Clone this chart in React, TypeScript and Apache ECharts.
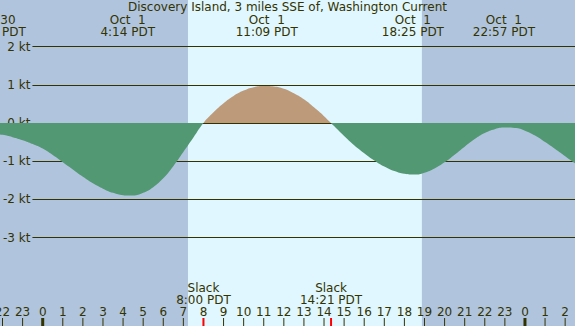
import React, { useEffect, useRef } from "react";
import * as echarts from "echarts";

const TITLE = "Discovery Island, 3 miles SSE of, Washington Current";
// time axis (hours from midnight Oct 1, PDT)
const X_MIN = -2.125;
const X_MAX = 26.49;
// current speed (kt), every half hour
const hours = [-3, -2.5, -2, -1.5, -1, -0.5, 0, 0.5, 1, 1.5, 2, 2.5, 3, 3.5, 4, 4.5, 5, 5.5, 6, 6.5, 7, 7.5, 8, 8.5, 9, 9.5, 10, 10.5, 11, 11.5, 12, 12.5, 13, 13.5, 14, 14.5, 15, 15.5, 16, 16.5, 17, 17.5, 18, 18.5, 19, 19.5, 20, 20.5, 21, 21.5, 22, 22.5, 23, 23.5, 24, 24.5, 25, 25.5, 26, 26.5, 27];
const speeds = [-0.3, -0.28, -0.31, -0.37, -0.45, -0.55, -0.67, -0.84, -1.03, -1.22, -1.41, -1.58, -1.72, -1.83, -1.89, -1.9, -1.83, -1.68, -1.45, -1.13, -0.76, -0.38, 0, 0.28, 0.52, 0.71, 0.85, 0.94, 0.97, 0.96, 0.9, 0.78, 0.62, 0.41, 0.18, -0.08, -0.34, -0.58, -0.79, -0.98, -1.14, -1.26, -1.33, -1.35, -1.3, -1.19, -1.03, -0.83, -0.62, -0.42, -0.26, -0.16, -0.12, -0.13, -0.2, -0.33, -0.5, -0.68, -0.87, -1.06, -1.25];
// max/min current events (top labels)
const eventHours = [-2.39, 4.23, 11.15, 18.42, 22.95];
const eventDates = ["Sep 30", "Oct  1", "Oct  1", "Oct  1", "Oct  1"];
const eventTimes = ["21:37 PDT", "4:14 PDT", "11:09 PDT", "18:25 PDT", "22:57 PDT"];
// slack events (bottom labels)
const slackHours = [8.0, 14.35];
const slackTimes = ["8:00 PDT", "14:21 PDT"];
// daylight
const daylight = [[7.23, 18.87]];
// ticks
const hourTicks = [-2, -1, 0, 1, 2, 3, 4, 5, 6, 7, 8, 9, 10, 11, 12, 13, 14, 15, 16, 17, 18, 19, 20, 21, 22, 23, 24, 25, 26];
const midnightTicks = [0, 24];
const ktTicks = [-3, 2];

const DARK = "#b0c4de";
const LIGHT = "#e0f7ff";
const EBB = "#529873";
const FLOOD = "#bd9a7a";
const INK = "#333300";
const FONT = "DejaVu Sans";

export default function App() {
  const ref = useRef<HTMLDivElement>(null);
  useEffect(() => {
    document.body.style.margin = "0";
    const chart = echarts.init(ref.current!, null, { renderer: "svg" });
    const T = 46.7;
    const B = 88.5;
    const tickSeries = (vals: number[], color: string, width: number, withLabel: boolean, z: number) => ({
      type: "custom", xAxisIndex: 0, yAxisIndex: 0, z, silent: true,
      data: vals.map((v) => [v]),
      renderItem: (params: any, api: any) => {
        const v = api.value(0);
        const x = api.coord([v, 0])[0];
        const cs = params.coordSys;
        const bottom = cs.y + cs.height;
        const children: any[] = [
          { type: "line", shape: { x1: x, y1: bottom - 8, x2: x, y2: bottom }, style: { stroke: color, lineWidth: width } },
        ];
        if (withLabel) {
          children.push({
            type: "text", x, y: bottom - 14,
            style: {
              text: String(((Math.round(v) % 24) + 24) % 24), fill: INK, font: `12px "${FONT}"`,
              align: "center", verticalAlign: "middle",
            },
          });
        }
        return { type: "group", children };
      },
    });
    chart.setOption({
      animation: false,
      backgroundColor: DARK,
      grid: [
        { left: 0, right: 0, top: 0, bottom: 0 },
        { left: 0, right: 0, top: T, bottom: B },
        { left: 30, right: 0, top: T, bottom: B },
      ],
      xAxis: [
        { gridIndex: 0, type: "value", min: X_MIN, max: X_MAX, show: false },
        { gridIndex: 1, type: "value", min: X_MIN, max: X_MAX, show: false },
        { gridIndex: 2, type: "value", min: 0, max: 1, show: false },
      ],
      yAxis: [
        { gridIndex: 0, type: "value", min: 0, max: 1, show: false },
        { gridIndex: 1, type: "value", min: ktTicks[0], max: ktTicks[1], show: false },
        {
          gridIndex: 2, type: "value", min: ktTicks[0], max: ktTicks[1], interval: 1, z: 2,
          axisLine: { show: false }, axisTick: { show: false },
          splitLine: { show: true, lineStyle: { color: INK, width: 1 } },
          axisLabel: { show: true, margin: 2, color: INK, fontSize: 12, fontFamily: FONT, formatter: "{value} kt" },
        },
      ],
      visualMap: {
        show: false, type: "piecewise", seriesIndex: 1, dimension: 1,
        pieces: [
          { gte: -100, lt: 0, color: EBB },
          { gte: 0, lte: 100, color: FLOOD },
        ],
        outOfRange: { color: EBB },
      },
      series: [
        {
          type: "custom", xAxisIndex: 0, yAxisIndex: 0, z: 0, silent: true,
          data: daylight,
          renderItem: (params: any, api: any) => {
            const x0 = api.coord([api.value(0), 0])[0];
            const x1 = api.coord([api.value(1), 0])[0];
            const cs = params.coordSys;
            return {
              type: "rect",
              shape: { x: x0, y: cs.y, width: x1 - x0, height: cs.height },
              style: { fill: LIGHT },
            };
          },
        },
        {
          type: "line", xAxisIndex: 1, yAxisIndex: 1, z: 3, silent: true,
          data: hours.map((h, i) => [h, speeds[i]]),
          smooth: 0.5, showSymbol: false, symbol: "none",
          lineStyle: { width: 0 },
          areaStyle: { opacity: 1 },
        },
        tickSeries(hourTicks, INK, 1, true, 4),
        tickSeries(midnightTicks, INK, 3, false, 5),
        tickSeries(slackHours, "#ff0000", 2, false, 6),
      ],
    });

    const px = (h: number) => chart.convertToPixel({ xAxisIndex: 0 }, h) as number;
    const txt = (x: number, y: number, text: string) => ({
      type: "text", x, y, z: 10, silent: true,
      style: { text, fill: INK, font: `12px "${FONT}"`, lineHeight: 12, align: "center", verticalAlign: "middle" },
    });
    const g: any[] = [txt(287.5, 7, TITLE)];
    eventHours.forEach((h, i) => {
      g.push(txt(px(h), 25.5, eventDates[i] + "\n" + eventTimes[i]));
    });
    slackHours.forEach((h, i) => {
      g.push(txt(px(h), 293.5, "Slack\n" + slackTimes[i]));
    });
    chart.setOption({ graphic: g });
    return () => chart.dispose();
  }, []);
  return <div ref={ref} style={{ width: 575, height: 326 }} />;
}
